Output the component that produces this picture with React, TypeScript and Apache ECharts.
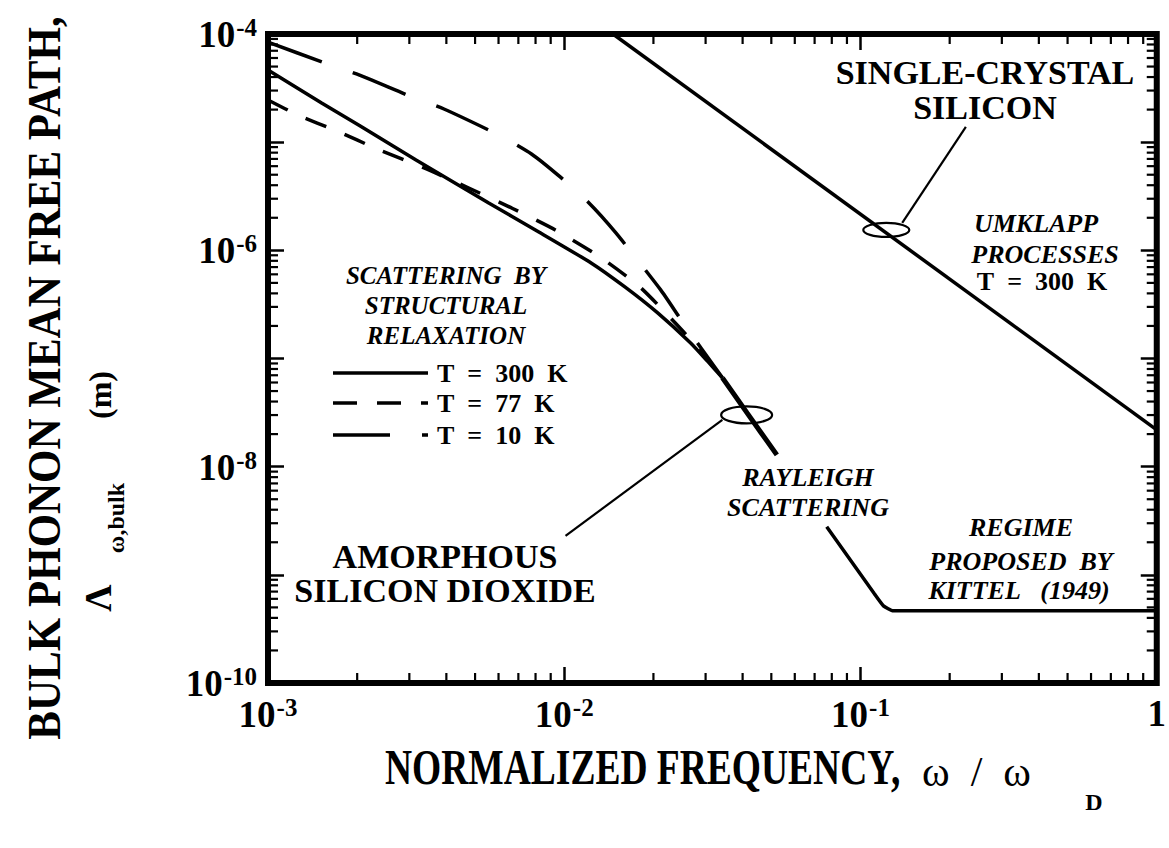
import React, { useEffect, useRef } from "react";
import * as echarts from "echarts";

const FONT = "'Liberation Serif', 'Times New Roman', Times, serif";

// ---- axis ranges & tick labels ----
const xRange = [1e-3, 1];
const yRange = [1e-10, 1e-4];
const yLabelExps = [-4, -6, -8, -10];
const minorMultipliers = [2, 3, 4, 5, 6, 7, 8, 9];
const xDecades = [-3, -2, -1];
const yDecades = [-10, -9, -8, -7, -6, -5];

// ---- single-crystal silicon, umklapp, T = 300 K ----
const siliconUmklapp = [
  [0.0146, 1e-4],
  [1, 2.19e-8],
];

// ---- amorphous SiO2, structural relaxation ----
const amorphous300K = [
  [1.0e-3, 4.65e-5],
  [1.517e-3, 2.3e-5],
  [2.035e-3, 1.426e-5],
  [3.16e-3, 6.85e-6],
  [5.56e-3, 2.74e-6],
  [7.99e-3, 1.543e-6],
  [1.232e-2, 7.65e-7],
  [1.602e-2, 4.59e-7],
  [2.067e-2, 2.64e-7],
  [2.67e-2, 1.393e-7],
  [3.04e-2, 9.5e-8],
  [3.42e-2, 6.62e-8],
];
const amorphous77K = [
  [1.0e-3, 2.455e-5],
  [1.28e-3, 1.746e-5],
  [1.678e-3, 1.297e-5],
  [2.376e-3, 8.47e-6],
  [3.363e-3, 5.78e-6],
  [4.76e-3, 3.77e-6],
  [6.64e-3, 2.465e-6],
  [9.33e-3, 1.543e-6],
  [1.32e-2, 8.69e-7],
  [1.8e-2, 4.59e-7],
  [2.547e-2, 1.724e-7],
  [3.42e-2, 6.62e-8],
];
const amorphous10K = [
  [1.0e-3, 8.43e-5],
  [1.553e-3, 5.4e-5],
  [1.989e-3, 4.27e-5],
  [3.066e-3, 2.617e-5],
  [3.926e-3, 2.026e-5],
  [6.1e-3, 1.141e-5],
  [7.75e-3, 7.78e-6],
  [9.69e-3, 4.77e-6],
  [1.203e-2, 2.8e-6],
  [1.494e-2, 1.448e-6],
  [2.116e-2, 4.31e-7],
  [2.507e-2, 2.18e-7],
  [3.42e-2, 6.62e-8],
];
// Rayleigh scattering (all temperatures merged)
const rayleigh = [
  [3.42e-2, 6.62e-8],
  [4.14e-2, 3.14e-8],
  [5.22e-2, 1.285e-8],
];
// Rayleigh continuation into the Kittel regime
const kittelRegime = [
  [7.69e-2, 2.78e-9],
  [0.1114, 6.67e-10],
  [0.1195, 5.17e-10],
  [0.129, 4.65e-10],
  [1, 4.65e-10],
];

// ---- annotation marks ----
const ellipseCenters = [
  [0.1222, 1.543e-6],
  [0.04127, 3.01e-8],
];
const leaderSilicon = [
  [0.1383, 1.791e-6],
  [0.2268, 1.382e-5],
];
const leaderAmorphous = [
  [0.03417, 2.707e-8],
  [0.0101, 2.293e-9],
];

const ELLIPSE_R = [
  [23, 7],
  [25.5, 8.5],
];

const xMinorTicks: number[] = [];
xDecades.forEach((d) => minorMultipliers.forEach((m) => xMinorTicks.push(m * Math.pow(10, d))));
const yMinorTicks: number[] = [];
yDecades.forEach((d) => minorMultipliers.forEach((m) => yMinorTicks.push(m * Math.pow(10, d))));

const labelRich = {
  b: { fontFamily: FONT, fontWeight: "bold", fontSize: 37, color: "#000", verticalAlign: "bottom" },
  s: {
    fontFamily: FONT,
    fontWeight: "bold",
    fontSize: 25,
    color: "#000",
    verticalAlign: "bottom",
    padding: [0, 0, 13, 1],
  },
};

const expOf = (v: number) => Math.round(Math.log10(v));

const tickStyle = { show: true, inside: true, length: 16, lineStyle: { color: "#000", width: 2.5 } };

function txt(text: string, x: number, y: number, size: number, o: any = {}) {
  const align = o.align || "center";
  return {
    type: "text",
    x,
    y,
    rotation: o.rotation || 0,
    scaleX: o.scaleX || 1,
    scaleY: o.scaleY || 1,
    silent: true,
    z: 100,
    style: {
      text,
      fontSize: size,
      fontFamily: FONT,
      fontWeight: o.weight || "bold",
      fontStyle: o.italic ? "italic" : "normal",
      fill: "#000",
      lineHeight: o.lineHeight,
      align,
      textAlign: align,
      verticalAlign: "middle",
      textVerticalAlign: "middle",
    },
  };
}

function legendLine(y: number, dash: number[] | null) {
  return {
    type: "line",
    silent: true,
    z: 100,
    shape: { x1: 333, y1: y, x2: 428, y2: y },
    style: { stroke: "#000", lineWidth: 3.5, lineDash: dash || undefined, lineCap: "butt" },
  };
}

const NB = "\u00A0";

function buildOption() {
  const curve = (name: string, data: number[][], width: number, type: any, smooth = 0.2) => ({
    name,
    type: "line",
    data,
    symbol: "none",
    showSymbol: false,
    smooth,
    connectNulls: false,
    lineStyle: { color: "#000", width, type, cap: "butt" },
    z: 5,
    silent: true,
  });

  return {
    animation: false,
    backgroundColor: "#fff",
    grid: {
      left: 268,
      top: 34,
      width: 894,
      height: 649,
      show: true,
      borderColor: "#000",
      borderWidth: 6,
      backgroundColor: "transparent",
    },
    xAxis: [
      {
        type: "log",
        logBase: 10,
        min: xRange[0],
        max: xRange[1],
        splitNumber: 3,
        position: "bottom",
        axisLine: { show: false },
        axisTick: tickStyle,
        splitLine: { show: false },
        axisLabel: {
          margin: 12,
          fontSize: 37,
          fontWeight: "bold",
          fontFamily: FONT,
          color: "#000",
          showMinLabel: true,
          showMaxLabel: true,
          formatter: (v: number) => {
            const e = expOf(v);
            return e === 0 ? "{b|1}" : `{b|10}{s|${e}}`;
          },
          rich: labelRich,
        },
      },
      {
        type: "log",
        logBase: 10,
        min: xRange[0],
        max: xRange[1],
        splitNumber: 3,
        position: "top",
        axisLine: { show: false },
        axisTick: tickStyle,
        splitLine: { show: false },
        axisLabel: { show: false },
      },
    ],
    yAxis: [
      {
        type: "log",
        logBase: 10,
        min: yRange[0],
        max: yRange[1],
        splitNumber: 6,
        position: "left",
        axisLine: { show: false },
        axisTick: tickStyle,
        splitLine: { show: false },
        axisLabel: {
          margin: 11,
          fontSize: 37,
          fontWeight: "bold",
          fontFamily: FONT,
          color: "#000",
          showMinLabel: true,
          showMaxLabel: true,
          formatter: (v: number) => {
            const e = expOf(v);
            if (!yLabelExps.includes(e)) return "";
            return `{b|10}{s|${e}}`;
          },
          rich: labelRich,
        },
      },
      {
        type: "log",
        logBase: 10,
        min: yRange[0],
        max: yRange[1],
        splitNumber: 6,
        position: "right",
        axisLine: { show: false },
        axisTick: tickStyle,
        splitLine: { show: false },
        axisLabel: { show: false },
      },
    ],
    series: [
      curve("Single-crystal silicon", siliconUmklapp, 3.5, "solid", 0),
      curve("T = 300 K", amorphous300K, 3.5, "solid"),
      curve("T = 77 K", amorphous77K, 3.5, [22, 20]),
      curve("T = 10 K", amorphous10K, 3.5, [57, 33]),
      curve("Rayleigh", rayleigh, 5, "solid"),
      curve("Kittel", kittelRegime, 3.5, "solid", 0.15),
      curve("leader Si", leaderSilicon, 2.2, "solid", 0),
      curve("leader SiO2", leaderAmorphous, 2.2, "solid", 0),
      {
        type: "custom",
        name: "ellipses",
        silent: true,
        z: 6,
        data: ellipseCenters,
        renderItem: (params: any, api: any) => {
          const p = api.coord([api.value(0), api.value(1)]);
          const r = ELLIPSE_R[params.dataIndex];
          return {
            type: "ellipse",
            shape: { cx: p[0], cy: p[1], rx: r[0], ry: r[1] },
            style: { fill: "none", stroke: "#000", lineWidth: 2.2 },
          };
        },
      },
      {
        type: "custom",
        name: "x minor ticks",
        silent: true,
        z: 4,
        clip: false,
        data: xMinorTicks.map((v) => [v, 1e-7]),
        renderItem: (params: any, api: any) => {
          const v = api.value(0);
          const b = api.coord([v, yRange[0]]);
          const t = api.coord([v, yRange[1]]);
          const st = { stroke: "#000", lineWidth: 2.2 };
          return {
            type: "group",
            children: [
              { type: "line", shape: { x1: b[0], y1: b[1], x2: b[0], y2: b[1] - 10 }, style: st },
              { type: "line", shape: { x1: t[0], y1: t[1], x2: t[0], y2: t[1] + 10 }, style: st },
            ],
          };
        },
      },
      {
        type: "custom",
        name: "y minor ticks",
        silent: true,
        z: 4,
        clip: false,
        data: yMinorTicks.map((v) => [0.03, v]),
        renderItem: (params: any, api: any) => {
          const v = api.value(1);
          const l = api.coord([xRange[0], v]);
          const r = api.coord([xRange[1], v]);
          const st = { stroke: "#000", lineWidth: 2.2 };
          return {
            type: "group",
            children: [
              { type: "line", shape: { x1: l[0], y1: l[1], x2: l[0] + 10, y2: l[1] }, style: st },
              { type: "line", shape: { x1: r[0], y1: r[1], x2: r[0] - 10, y2: r[1] }, style: st },
            ],
          };
        },
      },
    ],
    graphic: [
      // axis titles
      txt("BULK PHONON MEAN FREE PATH,", 44, 378, 47, { rotation: Math.PI / 2, scaleX: 0.915 }),
      txt("(m)", 100, 395, 32, { rotation: Math.PI / 2 }),
      txt("ω,bulk", 116, 518, 24, { rotation: Math.PI / 2 }),
      txt("Λ", 98, 598, 38, { rotation: Math.PI / 2 }),
      txt("NORMALIZED FREQUENCY,", 385, 768, 50, { align: "left", scaleX: 0.75 }),
      txt(`ω${NB}${NB}/${NB}${NB}ω`, 922, 772, 42, { align: "left", weight: "normal" }),
      txt("D", 1094, 802, 24),
      // single crystal
      txt("SINGLE-CRYSTAL\nSILICON", 985, 90, 34, { lineHeight: 35 }),
      txt("UMKLAPP", 1036, 223, 26, { italic: true }),
      txt("PROCESSES", 1045, 254, 26, { italic: true }),
      txt(`T${NB} =${NB} 300${NB} K`, 1042, 281, 26),
      // structural relaxation block
      txt(`SCATTERING${NB} BY`, 446, 275, 25, { italic: true }),
      txt("STRUCTURAL", 446, 305, 25, { italic: true }),
      txt("RELAXATION", 446, 335, 25, { italic: true }),
      legendLine(373, null),
      legendLine(403, [24, 20]),
      legendLine(435, [57, 32]),
      txt(`T${NB} =${NB} 300${NB} K`, 437, 373, 26, { align: "left" }),
      txt(`T${NB} =${NB} 77${NB} K`, 437, 403, 26, { align: "left" }),
      txt(`T${NB} =${NB} 10${NB} K`, 437, 435, 26, { align: "left" }),
      // amorphous
      txt("AMORPHOUS\nSILICON DIOXIDE", 445, 573, 34, { lineHeight: 34 }),
      txt("RAYLEIGH", 808, 477, 26, { italic: true }),
      txt("SCATTERING", 808, 507, 26, { italic: true }),
      txt("REGIME", 1021, 527, 26, { italic: true }),
      txt(`PROPOSED${NB} BY`, 1021, 561, 26, { italic: true }),
      txt(`KITTEL${NB}${NB} (1949)`, 1019, 590, 26, { italic: true }),
    ],
  };
}

export default function App() {
  const ref = useRef<HTMLDivElement>(null);
  useEffect(() => {
    document.body.style.margin = "0";
    const chart = echarts.init(ref.current!, null, { renderer: "svg" });
    chart.setOption(buildOption() as any);
    return () => chart.dispose();
  }, []);
  return <div ref={ref} style={{ width: 1169, height: 848, background: "#fff" }} />;
}
